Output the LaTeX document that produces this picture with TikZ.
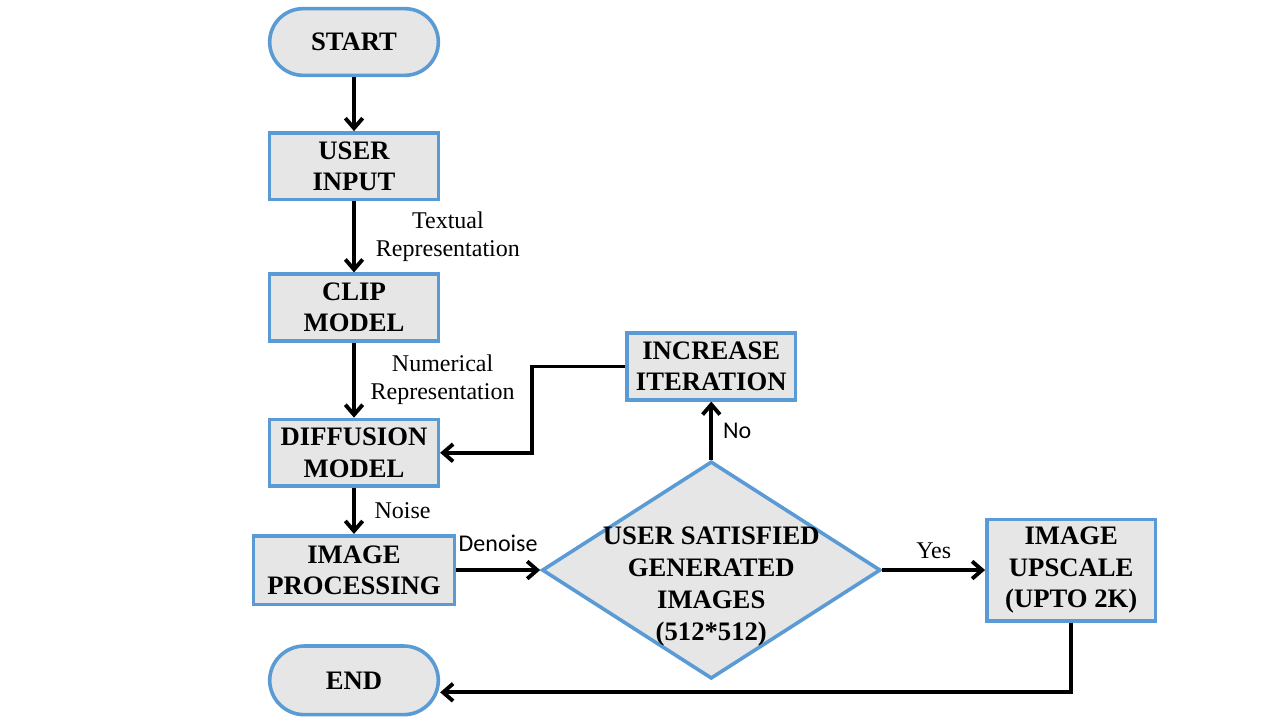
\documentclass[tikz,border=0pt]{standalone}
\usepackage{fontspec}
\setmainfont{Liberation Serif}
\newfontfamily\labelsans{Carlito}
\usetikzlibrary{shapes.geometric, arrows.meta, positioning}
\definecolor{edgeblue}{RGB}{91,155,213}
\definecolor{boxgray}{RGB}{231,230,230}

\begin{document}
\begin{tikzpicture}[
  x=0.75pt, y=-0.75pt,
  term/.style={rectangle, rounded corners=25pt, draw=edgeblue, fill=boxgray,
               line width=2.7pt, minimum width=126.5pt, minimum height=50pt,
               font=\fontsize{20}{23.5}\selectfont\bfseries, inner sep=0pt, align=center},
  box/.style={rectangle, draw=edgeblue, fill=boxgray,
              line width=2.7pt, minimum width=126.5pt, minimum height=50pt,
              font=\fontsize{20}{23.5}\selectfont\bfseries, inner sep=0pt, align=center},
  choice/.style={diamond, draw=edgeblue, fill=boxgray, line width=2.7pt,
                 minimum width=254pt, minimum height=163pt, inner sep=0pt},
  lab/.style={font=\fontsize{18}{21}\selectfont, align=center, inner sep=0pt},
  sanslab/.style={font=\labelsans\fontsize{18}{21}\selectfont, inner sep=0pt},
  arr/.style={-{Straight Barb[length=7.5pt,width=13pt]}, line width=2.9pt}
]
  \useasboundingbox (0,0) rectangle (1280,720);

  \node[term] (start) at (354,42) {START};
  \node[box, below=40.5pt of start]  (input) {USER\\INPUT};
  \node[box, below=53.25pt of input] (clip)  {CLIP\\MODEL};
  \node[box, below=56.25pt of clip]  (diff)  {DIFFUSION\\MODEL};
  \node[box, below=34.5pt of diff, minimum width=150.5pt, minimum height=51.5pt] (proc) {IMAGE\\PROCESSING};
  \node[term, below=28.5pt of proc, minimum height=51.5pt, rounded corners=26pt] (end) {END};
  \node[choice, right=63pt of proc,
        label={[draw=none, fill=none, font=\fontsize{20}{24}\selectfont\bfseries,
                align=center, inner sep=0pt, yshift=-12pt]center:USER SATISFIED\\GENERATED\\IMAGES\\(512*512)}] (check) {};
  \node[box, above=43.5pt of check] (iter) {INCREASE\\ITERATION};
  \node[box, right=77pt of check, minimum height=76pt] (upscale) {IMAGE\\UPSCALE\\(UPTO 2K)};

  \draw[arr] (start) -- (input);
  \draw[arr] (input) -- node[right=15pt, lab] {Textual\\Representation} (clip);
  \draw[arr] (clip)  -- node[right=11pt, lab] {Numerical\\Representation} (diff);
  \draw[arr] (diff)  -- node[right=14pt, lab] {Noise} (proc);
  \draw[arr] (proc)  -- node[above=12pt, sanslab] {Denoise} (check);
  \draw[arr] (check) -- node[right=7.5pt, sanslab] {No} (iter);
  \draw[arr] (check) -- node[above=7pt, lab] {Yes} (upscale);
  \draw[arr] (iter.west) -- ++(-93,0) |- (diff.east);
  \draw[arr] (upscale.south) |- ([yshift=-9pt]end.east);
\end{tikzpicture}
\end{document}
